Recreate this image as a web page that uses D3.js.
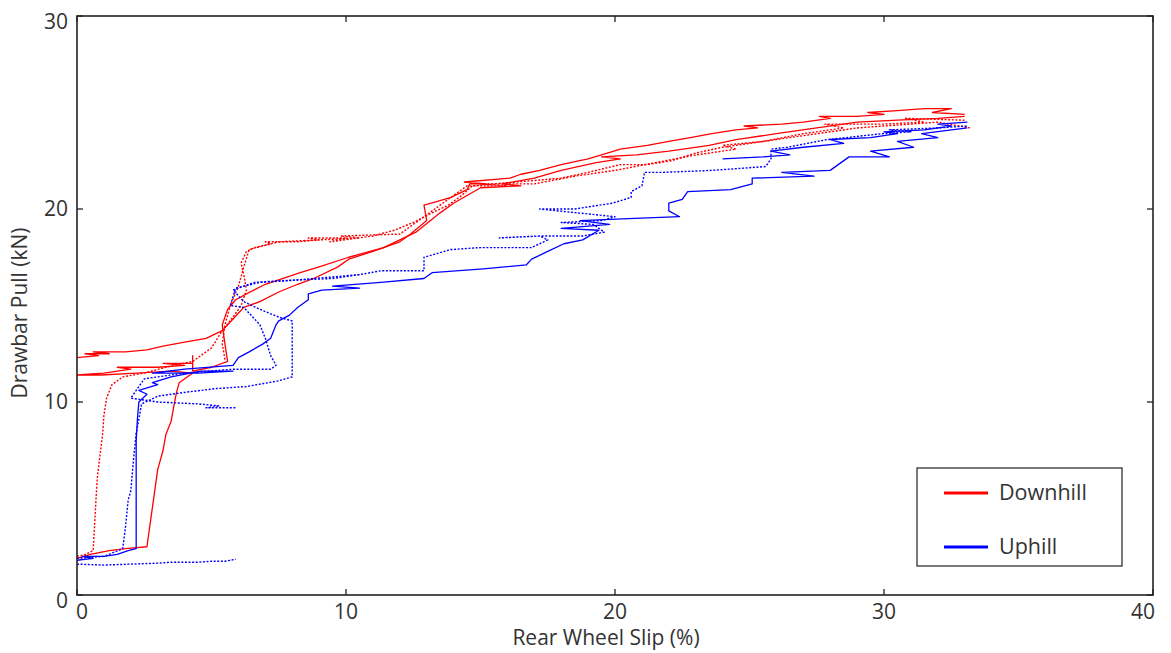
<!DOCTYPE html>
<html>
<head>
<meta charset="utf-8">
<script src="https://cdn.jsdelivr.net/npm/d3@7"></script>
<style>
  html, body { margin: 0; padding: 0; background: #fff; }
  svg { display: block; }
  text { font-family: "Open Sans", "Noto Sans", sans-serif; fill: #333; }
</style>
</head>
<body>
<svg id="chart" width="1171" height="653"></svg>
<script>
// ---------- data ----------
const xTicks = [0, 10, 20, 30, 40];
const yTicks = [0, 10, 20, 30];
const xTitle = "Rear Wheel Slip (%)";
const yTitle = "Drawbar Pull (kN)";
const seriesNames = ["Downhill", "Uphill"];
const seriesColors = ["#ff0000", "#0000ff"];

// Downhill runs: [slip %, pull kN]
const downhill1 = [[0,12.3],[0.8,12.4],[0.3,12.5],[1.2,12.5],[0.6,12.6],[1.8,12.6],[2.6,12.7],[3.2,12.9],[4.0,13.1],[4.8,13.3],[5.4,13.7],[5.8,14.3],[6.2,14.9],[6.8,15.2],[7.5,15.7],[8.2,16.1],[8.8,16.4],[9.7,17.0],[10.1,17.4],[11.0,17.8],[11.4,18.0],[12.0,18.3],[12.4,18.7],[13.0,19.4],[12.9,20.2],[13.4,20.4],[13.9,20.6],[14.5,21.0],[14.6,21.3],[15.2,21.3],[14.4,21.4],[16.1,21.6],[16.5,21.8],[17.2,22.0],[18.0,22.3],[19.0,22.6],[19.5,22.8],[20.2,23.1],[21.2,23.3],[22.0,23.5],[22.8,23.7],[23.6,23.9],[24.5,24.1],[25.3,24.2],[24.8,24.3],[26.2,24.4],[27.0,24.5],[28.0,24.7],[27.6,24.8],[29.0,24.8],[30.0,24.9],[29.4,25.0],[30.5,25.1],[31.5,25.2],[32.5,25.2],[31.8,25.0],[33.0,24.9]];
const downhill2 = [[0,2.0],[0.3,2.1],[0.6,2.3],[0.65,3.5],[0.7,4.8],[0.75,6.0],[0.85,7.2],[0.95,8.3],[1.0,9.3],[1.1,10.2],[1.3,10.9],[1.7,11.3],[2.5,11.5],[3.3,11.8],[4.3,12.1],[5.0,12.8],[5.4,13.7],[5.8,14.4],[6.1,15.0],[6.3,15.8],[6.2,16.6],[6.1,17.2],[6.3,17.8],[6.6,18.0],[7.2,18.2],[7.0,18.3],[8.2,18.3],[9.0,18.4],[8.6,18.5],[10.0,18.5],[9.4,18.3],[11.0,18.6],[11.8,18.9],[12.5,19.3],[13.2,19.8],[13.8,20.2],[14.3,20.7],[14.7,21.2],[15.5,21.3],[16.3,21.4],[17.2,21.5],[18.0,21.6],[19.0,21.9],[19.6,22.1],[20.2,22.3],[21.2,22.3],[22.1,22.5],[23.0,22.9],[24.0,23.2],[25.0,23.4],[26.0,23.6],[27.0,23.8],[28.0,24.0],[29.0,24.2],[30.0,24.3],[31.0,24.4],[32.0,24.5],[33.2,24.2]];
const downhill3 = [[0,1.9],[0.5,2.1],[1.2,2.3],[1.8,2.4],[2.6,2.5],[2.7,3.5],[2.8,4.5],[2.9,5.5],[3.0,6.5],[3.2,7.5],[3.3,8.3],[3.5,9.0],[3.6,9.8],[3.7,10.5],[3.8,11.0],[4.3,11.5],[3.5,11.6],[2.2,11.5],[0.9,11.4],[0,11.4],[1.0,11.5],[2.0,11.7],[1.5,11.8],[3.0,11.8],[4.0,11.9],[3.2,12.0],[4.3,12.0],[4.3,12.4],[4.3,11.6],[5.0,11.8],[5.6,12.1],[5.5,13.0],[5.4,14.0],[5.6,14.8],[5.9,15.3],[6.3,15.6],[7.0,16.1],[8.3,16.7],[9.0,17.0],[10.1,17.5],[11.4,18.0],[12.0,18.4],[12.6,18.8],[13.5,19.8],[14.0,20.3],[15.0,21.1],[16.5,21.2],[15.8,21.3],[17.0,21.6],[18.0,22.0],[19.3,22.4],[20.2,22.6],[19.5,22.7],[20.8,22.8],[22.0,23.0],[23.5,23.3],[24.5,23.6],[26.0,23.9],[27.5,24.2],[29.0,24.5],[30.5,24.6],[32.0,24.7],[33.0,24.8]];
const downhill4 = [[5.5,12.2],[5.4,13.0],[5.5,14.0],[5.7,15.0],[6.0,16.0],[6.2,17.0],[6.4,17.9],[7.5,18.3],[9.0,18.4],[10.5,18.5],[9.8,18.6],[12.0,18.7],[12.8,19.5],[13.5,20.2],[14.0,20.7],[14.5,21.2],[16.0,21.2],[15.0,21.3],[17.0,21.3],[18.5,21.7],[20.0,22.0],[21.5,22.4],[23.0,22.8],[24.5,23.1],[24.0,23.3],[25.5,23.5],[27.0,23.9],[28.5,24.2],[27.8,24.4],[30.0,24.4],[31.5,24.5],[30.8,24.7],[33.0,24.6]];

// Uphill runs: [slip %, pull kN]
const uphill1 = [[0,1.6],[1.0,1.55],[2.0,1.6],[3.0,1.65],[3.5,1.7],[4.5,1.7],[5.0,1.75],[5.5,1.75],[5.9,1.85]];
const uphill2 = [[0,1.8],[0.6,1.9],[0.2,2.0],[1.0,2.0],[1.5,2.1],[1.9,2.3],[2.2,2.4],[2.2,4.0],[2.2,6.0],[2.2,8.0],[2.25,9.2],[2.3,10.0],[2.6,10.4],[2.3,10.6],[3.0,10.9],[2.8,11.0],[3.5,11.3],[4.6,11.6],[5.8,11.6],[4.5,11.5],[2.8,11.5],[4.0,11.7],[5.8,11.9],[6.0,12.3],[6.4,12.6],[6.9,13.0],[7.2,13.3],[7.4,14.0],[7.5,14.2],[7.9,14.5],[8.2,14.9],[8.6,15.3],[8.6,15.6],[9.1,15.8],[10.5,15.9],[9.5,16.0],[11.3,16.2],[12.9,16.4],[13.2,16.7],[15.1,16.9],[16.7,17.1],[16.9,17.4],[17.5,17.8],[18.1,18.2],[18.8,18.4],[19.4,18.9],[18.0,19.0],[19.8,19.2],[18.7,19.4],[20.5,19.5],[22.4,19.6],[22.0,19.9],[22.0,20.3],[22.5,20.5],[22.7,20.9],[24.3,21.0],[25.1,21.3],[25.1,21.6],[27.4,21.7],[26.2,21.9],[28.0,22.0],[28.7,22.7],[30.2,22.7],[29.5,23.0],[31.1,23.2],[30.5,23.5],[32.0,23.7],[31.4,23.9],[33.1,24.2]];
const uphill3 = [[0,1.9],[1.0,2.0],[1.7,2.4],[1.8,3.5],[1.9,4.9],[2.0,5.4],[2.1,7.0],[2.2,8.4],[2.3,9.1],[2.4,9.9],[3.0,10.3],[4.0,10.5],[5.2,10.7],[6.3,10.8],[7.5,11.1],[8.0,11.3],[8.0,12.5],[8.0,14.2],[7.5,14.4],[6.8,14.8],[6.2,15.2],[5.8,15.8],[6.6,16.2],[7.8,16.3],[9.5,16.4],[10.5,16.6],[11.3,16.8],[12.9,16.8],[12.9,17.5],[13.9,17.9],[15.0,18.0],[15.7,18.0],[16.9,18.0],[17.5,18.4],[17.2,18.6],[15.7,18.5],[17.2,18.6],[18.8,18.6],[19.6,18.8],[19.2,19.2],[18.0,19.3],[19.5,19.4],[20.0,19.6],[17.2,20.0],[18.5,20.0],[19.9,20.3],[20.6,20.6],[20.6,20.9],[21.0,21.2],[21.1,21.9],[21.8,21.9],[23.6,22.0],[25.6,22.2],[25.8,22.6],[25.8,23.1],[26.4,23.2],[27.9,23.6],[28.6,23.7],[29.9,23.9],[31.0,24.0],[30.2,24.1],[32.0,24.2],[33.1,24.3]];
const uphill4 = [[10.5,16.6],[8.0,16.3],[6.8,16.2],[5.9,15.9],[5.7,15.0],[6.2,14.9],[6.4,14.6],[6.8,14.0],[7.0,13.3],[7.2,12.4],[7.4,11.9],[7.2,11.7],[5.8,11.7],[4.0,11.5],[2.5,11.2],[2.0,10.2],[3.0,10.0],[4.5,9.9],[5.3,9.8],[4.8,9.7],[5.9,9.7]];
const uphill5 = [[24.0,22.6],[25.5,22.7],[26.5,22.8],[25.8,23.0],[27.0,23.2],[28.5,23.4],[28.0,23.6],[29.5,23.7],[30.5,23.9],[30.0,24.0],[31.5,24.1],[32.5,24.3],[32.0,24.4],[33.1,24.5]];

const downhillRuns = [downhill1, downhill2, downhill3, downhill4];
const downhillDashed = [false, true, false, true];
const uphillRuns = [uphill1, uphill2, uphill3, uphill4, uphill5];
const uphillDashed = [true, false, true, true, false];

// ---------- layout ----------
const svg = d3.select("#chart");
const L = 77, R = 1153, T = 16, B = 595;
const x = d3.scaleLinear().domain([0, 40]).range([L, R]);
const y = d3.scaleLinear().domain([0, 30]).range([B, T]);

const plot = svg.append("g");
plot.append("defs").append("clipPath").attr("id", "clip")
  .append("rect").attr("x", L).attr("y", T).attr("width", R - L).attr("height", B - T);

const line = d3.line().x(d => x(d[0])).y(d => y(d[1]));
const marks = plot.append("g").attr("clip-path", "url(#clip)");

function drawRuns(runs, dashed, color) {
  runs.forEach((run, i) => {
    marks.append("path")
      .datum(run)
      .attr("d", line)
      .attr("fill", "none")
      .attr("stroke", color)
      .attr("stroke-width", dashed[i] ? 1.4 : 1.3)
      .attr("stroke-dasharray", dashed[i] ? "2,1.6" : null)
      .attr("stroke-linejoin", "round");
  });
}
drawRuns(downhillRuns, downhillDashed, seriesColors[0]);
drawRuns(uphillRuns, uphillDashed, seriesColors[1]);

// frame
svg.append("rect").attr("x", L).attr("y", T).attr("width", R - L).attr("height", B - T)
  .attr("fill", "none").attr("stroke", "#222").attr("stroke-width", 1.6);

// ticks (inward, all four sides)
const tk = 6;
const tickG = svg.append("g").attr("stroke", "#222").attr("stroke-width", 1.3);
xTicks.forEach(v => {
  tickG.append("line").attr("x1", x(v)).attr("x2", x(v)).attr("y1", B).attr("y2", B - tk);
  tickG.append("line").attr("x1", x(v)).attr("x2", x(v)).attr("y1", T).attr("y2", T + tk);
});
yTicks.forEach(v => {
  tickG.append("line").attr("x1", L).attr("x2", L + tk).attr("y1", y(v)).attr("y2", y(v));
  tickG.append("line").attr("x1", R).attr("x2", R - tk).attr("y1", y(v)).attr("y2", y(v));
});

// tick labels
const fs = 21;
svg.append("g").selectAll("text").data(xTicks).join("text")
  .attr("x", d => x(d) + (d === 0 ? 5 : d === 40 ? -10 : 0))
  .attr("y", B + 24)
  .attr("text-anchor", "middle")
  .attr("font-size", fs)
  .text(d => d);
svg.append("g").selectAll("text").data(yTicks).join("text")
  .attr("x", 68)
  .attr("y", d => y(d) + (d === 30 || d === 0 ? 6 : 0))
  .attr("dy", "0.35em")
  .attr("text-anchor", "end")
  .attr("font-size", fs)
  .text(d => d);

// axis titles
svg.append("text").attr("x", 606).attr("y", 645)
  .attr("text-anchor", "middle").attr("font-size", fs).text(xTitle);
svg.append("text").attr("transform", "translate(27,313) rotate(-90)")
  .attr("text-anchor", "middle").attr("font-size", fs).text(yTitle);

// legend
const lg = svg.append("g");
lg.append("rect").attr("x", 917).attr("y", 468).attr("width", 205).attr("height", 98)
  .attr("fill", "#fff").attr("stroke", "#222").attr("stroke-width", 1.2);
seriesNames.forEach((name, i) => {
  const ly = 493 + i * 54;
  lg.append("line").attr("x1", 944).attr("x2", 988).attr("y1", ly).attr("y2", ly)
    .attr("stroke", seriesColors[i]).attr("stroke-width", 3);
  lg.append("text").attr("x", 999).attr("y", ly).attr("dy", "0.33em")
    .attr("font-size", 21.5).text(name);
});
</script>
</body>
</html>
